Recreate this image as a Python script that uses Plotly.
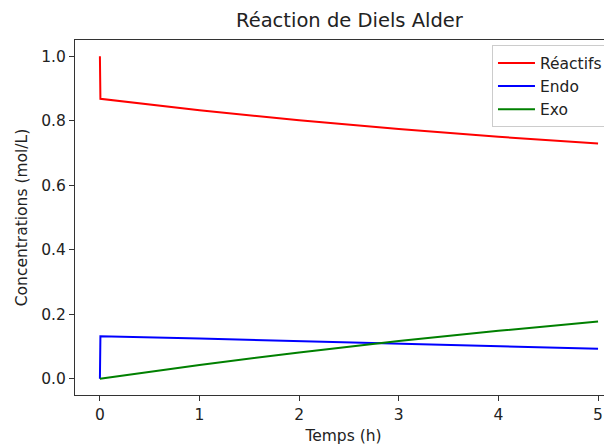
import plotly.graph_objects as go

# Data
temps = [0, 0.005, 1, 2, 3, 4, 5]
reactifs = [1.0, 0.868, 0.832, 0.801, 0.774, 0.750, 0.729]
endo = [0.0, 0.132, 0.125, 0.117, 0.109, 0.101, 0.093]
temps_exo = [0, 1, 2, 3, 4, 5]
exo = [0.0, 0.043, 0.082, 0.117, 0.149, 0.178]

x_ticks = [0, 1, 2, 3, 4, 5]
y_ticks = [0.0, 0.2, 0.4, 0.6, 0.8, 1.0]

FONT = "DejaVu Sans"
FS = 15.5
fig = go.Figure()
fig.add_trace(go.Scatter(x=temps, y=reactifs, mode="lines", name="Réactifs", legendgroup="a",
                         line=dict(color="#ff0000", width=2)))
fig.add_trace(go.Scatter(x=temps, y=endo, mode="lines", name="Endo", legendgroup="b",
                         line=dict(color="#0000ff", width=2)))
fig.add_trace(go.Scatter(x=temps_exo, y=exo, mode="lines", name="Exo", legendgroup="c",
                         line=dict(color="#008000", width=2)))

fig.update_layout(
    width=604, height=437,
    margin=dict(l=67, r=0, t=32, b=50, autoexpand=False),
    paper_bgcolor="white", plot_bgcolor="white",
    font=dict(family=FONT, size=FS, color="#222"),
    title=dict(text="Réaction de Diels Alder", x=0.511, xref="paper", xanchor="center",
               y=0.973, yref="container", yanchor="middle",
               font=dict(family=FONT, size=19.5, color="#222")),
    showlegend=True,
    legend=dict(x=0.7765, y=0.985, xanchor="left", yanchor="top",
                bgcolor="white", bordercolor="#cccccc", borderwidth=1,
                font=dict(family=FONT, size=FS, color="#222"),
                tracegroupgap=0, itemwidth=37),
)
fig.update_xaxes(range=[-0.25, 5.14], tickvals=x_ticks, ticktext=[str(v) for v in x_ticks],
                 automargin=False,
                 showgrid=False, zeroline=False, showline=True, linecolor="#333", linewidth=1,
                 mirror=True, ticks="outside", ticklen=5, tickcolor="#333",
                 title=dict(text="Temps (h)", standoff=8, font=dict(size=FS)))
fig.update_yaxes(range=[-0.05, 1.05], tickvals=y_ticks, ticktext=[f"{v:.1f}" for v in y_ticks],
                 automargin=False,
                 showgrid=False, zeroline=False, showline=True, linecolor="#333", linewidth=1,
                 ticks="outside", ticklen=5, tickcolor="#333",
                 title=dict(text="Concentrations (mol/L)", standoff=9, font=dict(size=FS)))

fig.write_html("out.html")
